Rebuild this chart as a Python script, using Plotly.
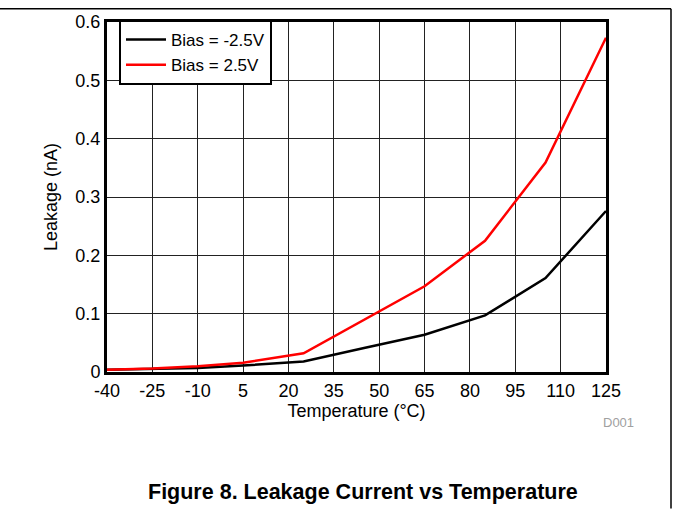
import plotly.graph_objects as go

temps = [-40, -25, -10, 5, 25, 45, 65, 85, 105, 125]
leak_neg = [0.004, 0.005, 0.007, 0.011, 0.018, 0.041, 0.064, 0.097, 0.161, 0.276]
leak_pos = [0.004, 0.006, 0.010, 0.016, 0.032, 0.089, 0.147, 0.225, 0.359, 0.573]
x_ticks = [-40, -25, -10, 5, 20, 35, 50, 65, 80, 95, 110, 125]
x_tick_text = ["-40", "-25", "-10", "5", "20", "35", "50", "65", "80", "95", "110", "125"]
y_ticks = [0, 0.1, 0.2, 0.3, 0.4, 0.5, 0.6]
y_tick_text = ["0", "0.1", "0.2", "0.3", "0.4", "0.5", "0.6"]

FONT = "Liberation Sans, Arial, sans-serif"

fig = go.Figure()
fig.add_trace(go.Scatter(x=temps, y=leak_neg, mode="lines", name="Bias = -2.5V",
                         line=dict(color="black", width=2.5)))
fig.add_trace(go.Scatter(x=temps, y=leak_pos, mode="lines", name="Bias = 2.5V",
                         line=dict(color="#ff0000", width=2.5)))

L, R, T, B = 107, 67, 18, 138
W, H = 673, 510
pw, ph = W - L - R, H - T - B

def px(x):
    return (x - L) / pw

def py(y):
    return (H - B - y) / ph

fig.update_layout(
    width=W, height=H,
    margin=dict(l=L, r=R, t=T, b=B),
    paper_bgcolor="white", plot_bgcolor="white",
    font=dict(family=FONT, size=18, color="black"),
    showlegend=True,
    legend=dict(x=px(119), y=py(16), xanchor="left", yanchor="top",
                bgcolor="white", bordercolor="black", borderwidth=2,
                font=dict(size=17, family=FONT), tracegroupgap=0,
                itemwidth=40),
    xaxis=dict(range=[-40, 125], tickvals=x_ticks, ticktext=x_tick_text, ticks="", showgrid=True,
               gridcolor="#222222", gridwidth=1, zeroline=False,
               showline=True, linecolor="black", linewidth=3, mirror=True,
               tickfont=dict(size=18), title=dict(text="Temperature (°C)", font=dict(size=18), standoff=2)),
    yaxis=dict(range=[0, 0.6], tickvals=y_ticks, ticktext=y_tick_text, ticks="",
               showgrid=True, gridcolor="#222222", gridwidth=1, zeroline=False,
               showline=True, linecolor="black", linewidth=3, mirror=True,
               tickfont=dict(size=18), title=dict(text="Leakage (nA)", font=dict(size=18), standoff=14)),
)

# page border lines (top and right)
fig.add_shape(type="line", xref="paper", yref="paper", x0=px(0), x1=px(671), y0=py(4.5), y1=py(4.5),
              line=dict(color="black", width=1.5))
fig.add_shape(type="line", xref="paper", yref="paper", x0=px(671), x1=px(671), y0=py(4.5), y1=py(510),
              line=dict(color="black", width=1.5))

fig.add_annotation(text="D001", xref="paper", yref="paper", x=px(618), y=py(423),
                   xanchor="center", yanchor="middle", showarrow=False,
                   font=dict(size=13, color="#a0a0a0", family=FONT))
fig.add_annotation(text="<b>Figure 8. Leakage Current vs Temperature</b>", xref="paper", yref="paper",
                   x=px(363), y=py(493), xanchor="center", yanchor="middle", showarrow=False,
                   font=dict(size=21.5, color="black", family=FONT))

fig.write_html("out.html", config={"displayModeBar": False},
               post_script="document.body.style.margin='0';document.body.style.padding='0';")
